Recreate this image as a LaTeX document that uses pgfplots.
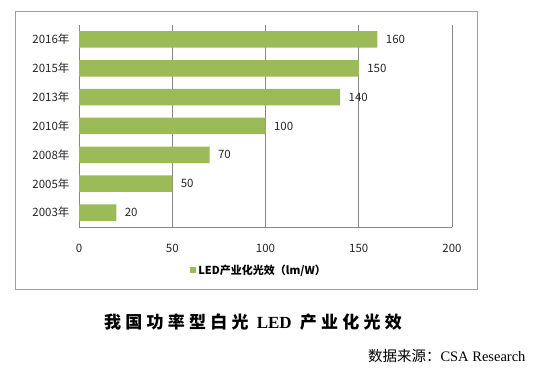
\documentclass[border=0pt]{standalone}
\usepackage{pgfplots}
\pgfplotsset{compat=1.18}
\usepackage{fontspec}
\setmainfont{Noto Sans CJK SC}
\newfontfamily\serifen{Liberation Serif}
\newfontfamily\cjktitle[LetterSpace=25]{Noto Sans CJK SC}
\definecolor{bargreen}{RGB}{155,187,89}
\definecolor{gridgray}{RGB}{134,134,134}
\begin{document}
\begin{tikzpicture}[x=1pt,y=1pt]
\useasboundingbox (0,0) rectangle (543,379);
\fill[white] (0,0) rectangle (543,379);
\draw[gridgray!80, line width=0.8pt] (15,90) rectangle (477,367.5);
\begin{axis}[
  at={(79pt,152pt)}, anchor=south west,
  scale only axis, width=373pt, height=202pt,
  xbar, bar width=16.5pt,
  xmin=0, xmax=200, ymin=-0.5, ymax=6.5,
  xtick={0,50,100,150,200},
  ytick={0,...,6},
  yticklabels={2003年,2005年,2008年,2010年,2013年,2015年,2016年},
  xmajorgrids, grid style={gridgray, line width=0.6pt},
  axis x line*=bottom, axis y line*=left,
  axis line style={gridgray, line width=0.6pt},
  major tick length=0pt,
  tick label style={font=\fontsize{11.5}{13}\selectfont, text=black!85},
  xticklabel style={yshift=-14pt},
  yticklabel style={xshift=-6pt},
  /pgf/number format/assume math mode=true,
  nodes near coords,
  nodes near coords style={anchor=west, xshift=5pt, font=\fontsize{11.5}{13}\selectfont, text=black!85},
  legend image code/.code={\fill[bargreen] (0pt,-3pt) rectangle (6pt,3pt);},
  legend style={at={(0.29,-0.215)}, anchor=west, draw=none, fill=none, font=\fontsize{11}{13}\selectfont\bfseries},
]
\addplot[fill=bargreen, draw=none] coordinates {(20,0) (50,1) (70,2) (100,3) (140,4) (150,5) (160,6)};
\addlegendentry{LED产业化光效（lm/W）}
\end{axis}
\node at (253,57) {\cjktitle\bfseries\fontsize{17}{20}\selectfont 我国功率型白光 {\serifen\bfseries LED} 产业化光效};
\node[anchor=east] at (529,23) {\fontsize{14.5}{17}\selectfont 数据来源：{\serifen CSA Research}};
\end{tikzpicture}
\end{document}
